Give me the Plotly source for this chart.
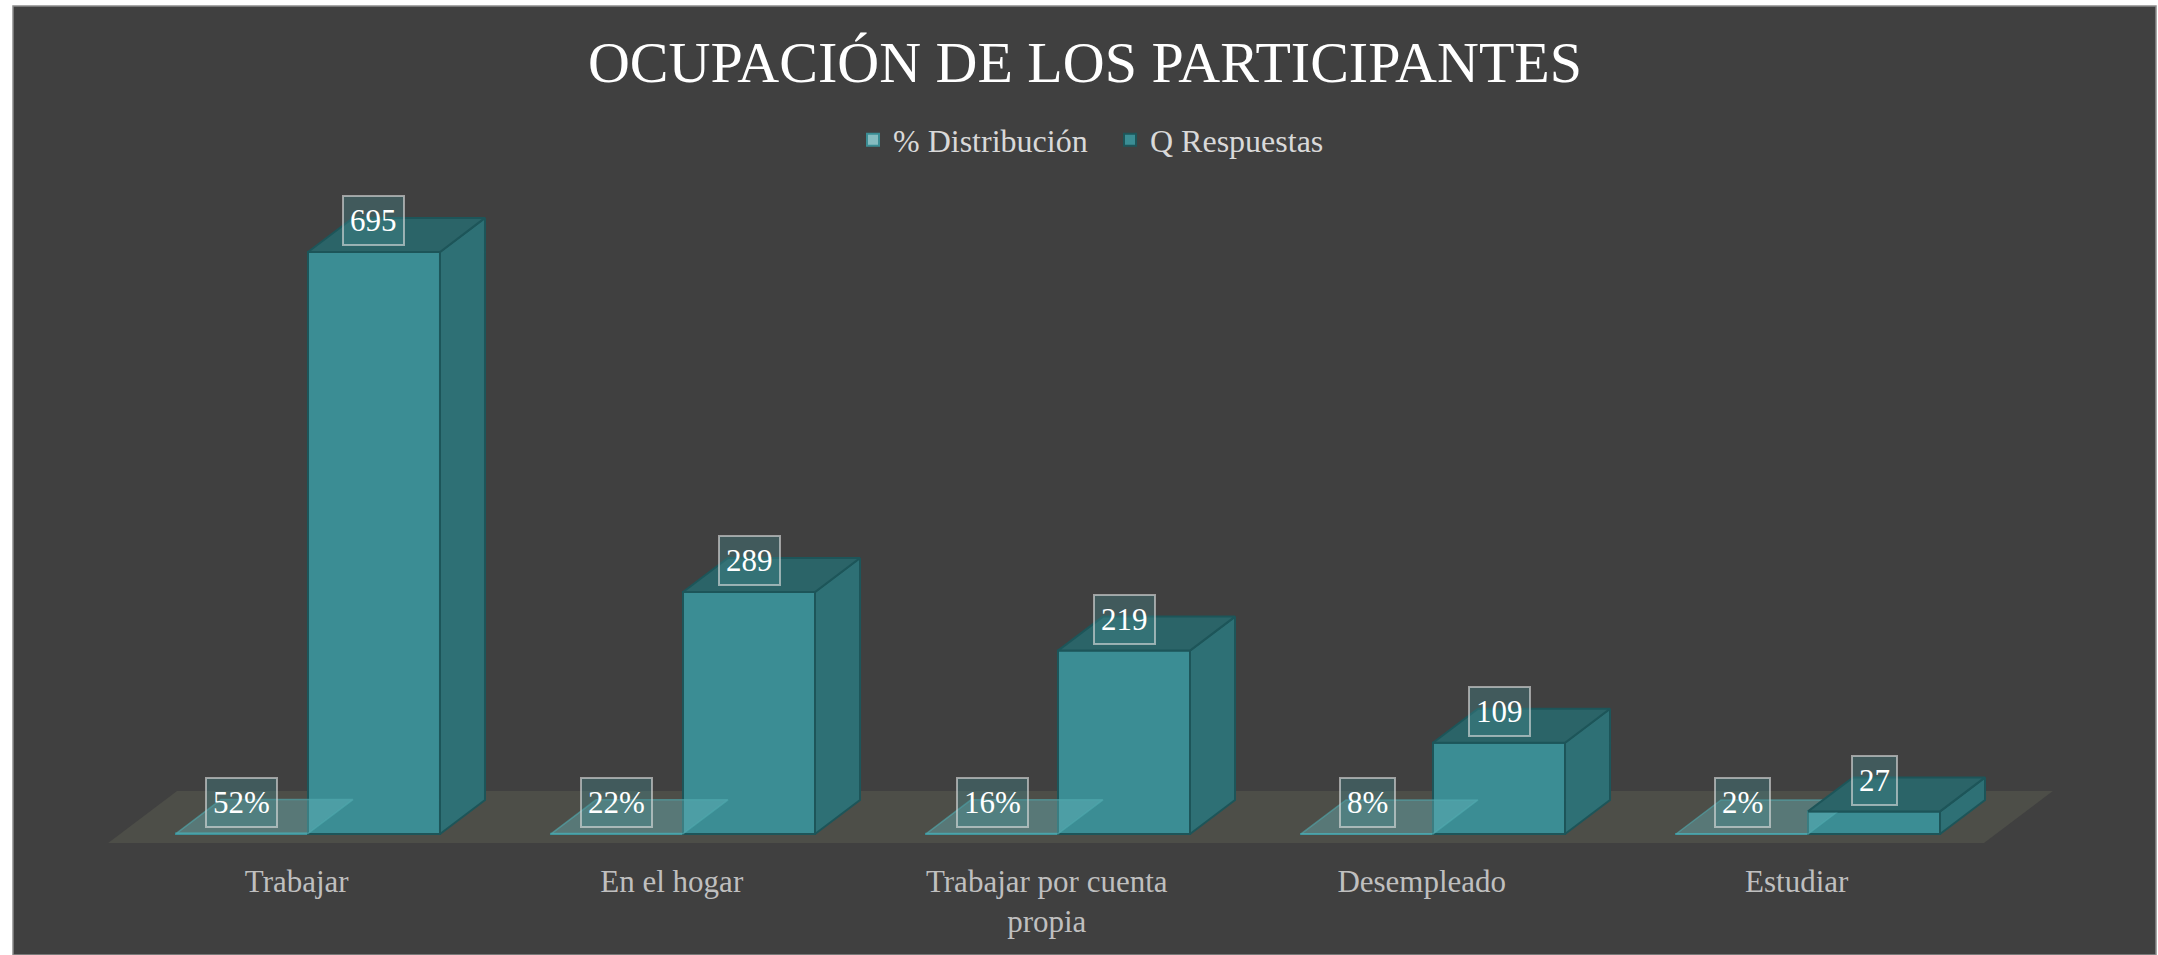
import plotly.graph_objects as go

# ---------------- data ----------------
categories = ["Trabajar", "En el hogar", "Trabajar por cuenta<br>propia", "Desempleado", "Estudiar"]
series_names = ["% Distribución", "Q Respuestas"]
pct_values = [0.52, 0.22, 0.16, 0.08, 0.02]
pct_labels = ["52%", "22%", "16%", "8%", "2%"]
q_values = [695, 289, 219, 109, 27]

# ---------------- style / geometry ----------------
W, H = 2158, 955
FONT = "Liberation Serif"
BAR_W = 0.352          # width of each bar (category units)
DX, DY = 0.12, 40.6    # 3-D depth vector (x units, y units)
FRONT = "#3b8d94"
SIDE = "#2e7075"
TOP = "#2b6468"
EDGE = "#1d5559"
PCT_FACE = "rgba(105,185,190,0.40)"
FLOOR = "#4d4e48"
TICK_SHIFT = -0.03

xs = list(range(len(categories)))

fig = go.Figure()

# flat "% Distribución" bars (front faces, on the same axis -> nearly zero height)
fig.add_trace(go.Bar(
    x=xs, y=pct_values, name=series_names[0], offset=-BAR_W, width=BAR_W,
    marker=dict(color="#86bcc0", line=dict(color="#3b8d94", width=2)),
    hoverinfo="skip",
))
# "Q Respuestas" bars (front faces)
fig.add_trace(go.Bar(
    x=xs, y=q_values, name=series_names[1], offset=0, width=BAR_W,
    marker=dict(color=FRONT, line=dict(color=EDGE, width=2)),
    hoverinfo="skip",
))

def poly_trace(polys, fill, line_color, line_width):
    px, py = [], []
    for p in polys:
        for (a, b) in p:
            px.append(a)
            py.append(b)
        px.append(p[0][0]); py.append(p[0][1])
        px.append(None); py.append(None)
    return go.Scatter(x=px, y=py, mode="lines", fill="toself", fillcolor=fill,
                      line=dict(color=line_color, width=line_width),
                      showlegend=False, hoverinfo="skip")

# % top faces
pct_tops = []
for i, v in zip(xs, pct_values):
    x0, x1 = i - BAR_W, i
    pct_tops.append([(x0, v), (x1, v), (x1 + DX, v + DY), (x0 + DX, v + DY)])
fig.add_trace(poly_trace(pct_tops, PCT_FACE, "rgba(80,170,175,0.6)", 1.5))

# Q side faces and top faces
q_sides, q_tops = [], []
for i, v in zip(xs, q_values):
    x0, x1 = i, i + BAR_W
    q_sides.append([(x1, 0), (x1 + DX, DY), (x1 + DX, v + DY), (x1, v)])
    q_tops.append([(x0, v), (x1, v), (x1 + DX, v + DY), (x0 + DX, v + DY)])
fig.add_trace(poly_trace(q_sides, SIDE, EDGE, 2))
fig.add_trace(poly_trace(q_tops, TOP, EDGE, 2))

# floor (derived from the bar extents)
fl_pad = 0.149
d0, d1 = -0.265, 1.265
fx0 = xs[0] - BAR_W - fl_pad
fx1 = xs[-1] + BAR_W + fl_pad
floor_pts = [(fx0 + d0 * DX, d0 * DY), (fx1 + d0 * DX, d0 * DY),
             (fx1 + d1 * DX, d1 * DY), (fx0 + d1 * DX, d1 * DY)]
floor_path = "M " + " L ".join(f"{a},{b}" for a, b in floor_pts) + " Z"

PLOT_B = 95
plot_h = H - PLOT_B
shapes = [
    dict(type="rect", xref="paper", yref="paper", layer="below",
         x0=13 / W, x1=2156 / W, y0=(plot_h - H) / plot_h, y1=(plot_h - 6) / plot_h,
         fillcolor="#404040", line=dict(color="#8c8c8c", width=1.5)),
    dict(type="path", xref="x", yref="y", layer="below", path=floor_path,
         fillcolor=FLOOR, line=dict(width=0)),
]

annotations = []
label_box = dict(bgcolor="rgba(70,140,145,0.35)", bordercolor="rgba(225,225,225,0.6)",
                 borderwidth=2, borderpad=6)
for i, v, lab in zip(xs, pct_values, pct_labels):
    annotations.append(dict(x=i - BAR_W / 2, y=v, xref="x", yref="y", text=lab,
                            showarrow=False, yshift=31,
                            font=dict(family=FONT, size=31, color="white"), **label_box))
for i, v in zip(xs, q_values):
    annotations.append(dict(x=i + BAR_W / 2, y=v, xref="x", yref="y", text=str(v),
                            showarrow=False, yshift=31,
                            font=dict(family=FONT, size=31, color="white"), **label_box))

fig.update_layout(
    width=W, height=H,
    margin=dict(l=0, r=0, t=0, b=PLOT_B, autoexpand=False),
    paper_bgcolor="white", plot_bgcolor="rgba(0,0,0,0)",
    barmode="overlay",
    title=dict(text="OCUPACIÓN DE LOS PARTICIPANTES", x=1085 / W, xanchor="center",
               y=1 - 62 / H, yref="container", yanchor="middle",
               font=dict(family=FONT, size=58, color="white")),
    legend=dict(orientation="h", x=853 / W, xanchor="left", y=1 - 140 / H,
                yref="container", yanchor="middle", bgcolor="rgba(0,0,0,0)",
                entrywidth=212, entrywidthmode="pixels",
                font=dict(family=FONT, size=32, color="#d9d9d9"), itemclick=False),
    xaxis=dict(range=[-0.8213, 4.9333], tickvals=[x + TICK_SHIFT for x in xs],
               ticktext=categories,
               showgrid=False, zeroline=False, showline=False, ticks="",
               tickfont=dict(family=FONT, size=31, color="#bfbfbf"), fixedrange=True),
    yaxis=dict(range=[-31.04, 995.8], visible=False, fixedrange=True),
    shapes=shapes, annotations=annotations,
    showlegend=True,
)

fig.write_html("out.html", config={"displayModeBar": False},
               post_script="document.body.style.margin='0';document.body.style.overflow='hidden';")
